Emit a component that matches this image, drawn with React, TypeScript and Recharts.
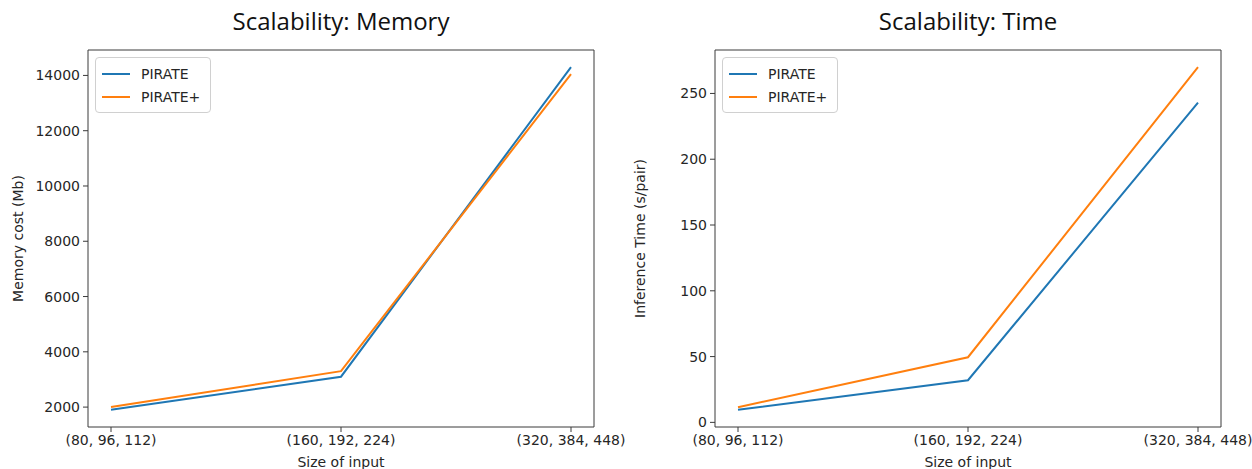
import { LineChart, Line, XAxis, YAxis, Legend, Label } from 'recharts'

const categories = ['(80, 96, 112)', '(160, 192, 224)', '(320, 384, 448)']

const memoryPirate = [1900, 3100, 14300]
const memoryPiratePlus = [2000, 3300, 14050]
const memoryTicks = [2000, 4000, 6000, 8000, 10000, 12000, 14000]

const timePirate = [9.5, 32, 243]
const timePiratePlus = [11.5, 49.5, 270]
const timeTicks = [0, 50, 100, 150, 200, 250]

const BLUE = '#1f77b4'
const ORANGE = '#ff7f0e'
const FRAME = '#3a3a3a'
const FONT = '"DejaVu Sans", sans-serif'

// matplotlib style 5% margin around the data
function paddedDomain(a: number[], b: number[]): [number, number] {
    const all = [...a, ...b]
    const lo = Math.min(...all)
    const hi = Math.max(...all)
    const m = (hi - lo) * 0.05
    return [lo - m, hi + m]
}

function buildRows(a: number[], b: number[]) {
    return categories.map((name, i) => ({ name, pirate: a[i], piratePlus: b[i] }))
}

function LegendBox({ payload }: any) {
    return (
        <div
            style={{
                border: '1px solid #d0d0d0',
                borderRadius: 4,
                background: 'rgba(255,255,255,0.85)',
                padding: '4px 10px 4px 6px',
                fontFamily: FONT,
                fontSize: 14,
                color: '#262626',
            }}
        >
            {(payload || []).map((p: any) => (
                <div key={p.value} style={{ display: 'flex', alignItems: 'center', height: 23 }}>
                    <span style={{ display: 'inline-block', width: 28, height: 2, background: p.color, marginRight: 11 }} />
                    <span>{p.value}</span>
                </div>
            ))}
        </div>
    )
}

interface PanelProps {
    title: string
    yLabel: string
    a: number[]
    b: number[]
    ticks: number[]
    left: number
    width: number
    plotRight: number
    marginLeft: number
    axisWidth: number
}

function Panel({ title, yLabel, a, b, ticks, left, width, plotRight, marginLeft, axisWidth }: PanelProps) {
    const rows = buildRows(a, b)
    const domain = paddedDomain(a, b)
    const plotLeft = marginLeft + axisWidth
    const plotW = plotRight - plotLeft
    const pad = Math.round(plotW / 22)
    const tickStyle = { fontSize: 14, fontFamily: FONT, fill: '#262626' }

    return (
        <div style={{ position: 'absolute', left, top: 0, width, height: 469 }}>
            <div
                style={{
                    position: 'absolute',
                    top: 4,
                    left: plotLeft,
                    width: plotW,
                    textAlign: 'center',
                    fontFamily: '"Open Sans", sans-serif',
                    fontSize: 24,
                    color: '#111',
                }}
            >
                {title}
            </div>
            <LineChart
                width={width}
                height={469}
                data={rows}
                margin={{ top: 49, right: width - plotRight - 1, left: marginLeft, bottom: 0 }}
            >
                <XAxis
                    dataKey="name"
                    type="category"
                    padding={{ left: pad, right: pad }}
                    height={42}
                    tick={tickStyle}
                    tickSize={5}
                    tickMargin={3}
                    stroke={FRAME}
                    interval={0}
                >
                    <Label value="Size of input" position="insideBottom" offset={2} style={{ fontSize: 14, fontFamily: FONT, fill: '#262626' }} />
                </XAxis>
                <XAxis xAxisId="top" dataKey="name" orientation="top" height={1} tick={false} tickLine={false} stroke={FRAME} padding={{ left: pad, right: pad }} />
                <YAxis
                    type="number"
                    domain={domain}
                    ticks={ticks}
                    allowDataOverflow
                    width={axisWidth}
                    tick={tickStyle}
                    tickSize={5}
                    tickMargin={3}
                    stroke={FRAME}
                >
                    <Label
                        content={({ viewBox }: any) => {
                            const x = viewBox.x + 8
                            const y = viewBox.y + viewBox.height / 2
                            return (
                                <text
                                    x={x}
                                    y={y}
                                    transform={`rotate(-90, ${x}, ${y})`}
                                    textAnchor="middle"
                                    dominantBaseline="central"
                                    style={{ fontSize: 14, fontFamily: FONT, fill: '#262626' }}
                                >
                                    {yLabel}
                                </text>
                            )
                        }}
                    />
                </YAxis>
                <YAxis yAxisId="right" orientation="right" width={1} domain={domain} tick={false} tickLine={false} stroke={FRAME} />
                <Legend
                    verticalAlign="middle"
                    content={<LegendBox />}
                    wrapperStyle={{ position: 'absolute', left: plotLeft + 7, top: 57, width: 'auto', height: 'auto' }}
                />
                <Line type="linear" dataKey="pirate" name="PIRATE" stroke={BLUE} strokeWidth={2} dot={false} isAnimationActive={false} />
                <Line type="linear" dataKey="piratePlus" name="PIRATE+" stroke={ORANGE} strokeWidth={2} dot={false} isAnimationActive={false} />
            </LineChart>
        </div>
    )
}

export default function App() {
    return (
        <div style={{ position: 'absolute', left: 0, top: 0, width: 1252, height: 469, background: '#fff' }}>
            <Panel
                title="Scalability: Memory"
                yLabel="Memory cost (Mb)"
                a={memoryPirate}
                b={memoryPiratePlus}
                ticks={memoryTicks}
                left={0}
                width={640}
                plotRight={594}
                marginLeft={10}
                axisWidth={78}
            />
            <Panel
                title="Scalability: Time"
                yLabel="Inference Time (s/pair)"
                a={timePirate}
                b={timePiratePlus}
                ticks={timeTicks}
                left={620}
                width={632}
                plotRight={601}
                marginLeft={12}
                axisWidth={83}
            />
        </div>
    )
}
